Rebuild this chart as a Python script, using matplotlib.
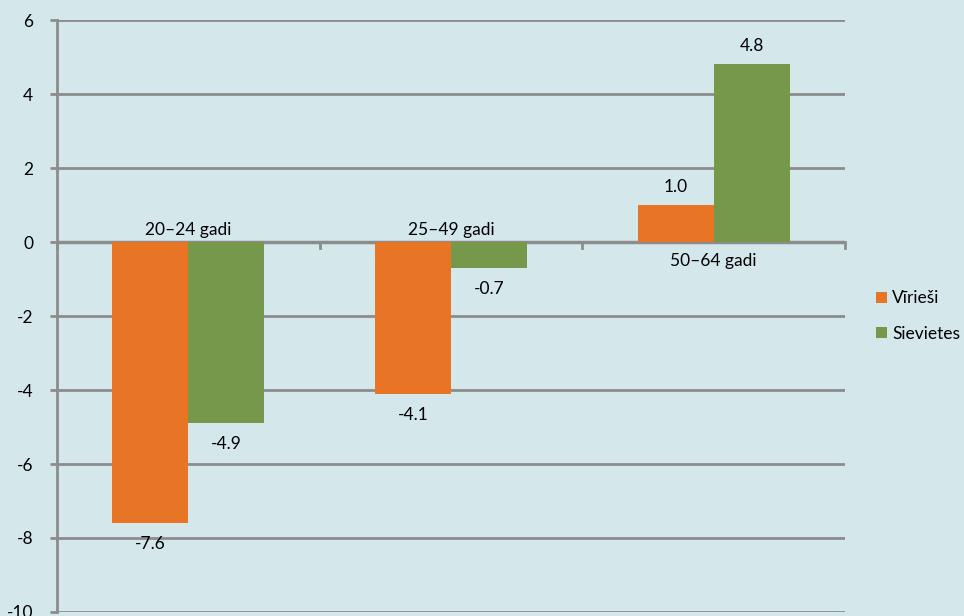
import numpy as np
import matplotlib.pyplot as plt

plt.rcParams['font.family'] = ['Lato', 'DejaVu Sans']
plt.rcParams['axes.unicode_minus'] = False

groups = ['20–24 gadi', '25–49 gadi', '50–64 gadi']
men = [-7.6, -4.1, 1.0]
women = [-4.9, -0.7, 4.8]
series_names = ['Vīrieši', 'Sievietes']

bg = '#d4e8ec'
orange = '#e87526'
green = '#76984a'
grid_col = '#8c8c8c'
fs = 12.5

fig = plt.figure(figsize=(9.64, 6.16), dpi=100, facecolor=bg)
ax = fig.add_axes([0.0591, 0.0065, 0.8175, 0.961])
ax.set_facecolor(bg)

x = np.arange(len(groups))
w = 0.29
b1 = ax.bar(x - w / 2, men, w, color=orange, label=series_names[0], zorder=3)
b2 = ax.bar(x + w / 2, women, w, color=green, label=series_names[1], zorder=3)

# value labels outside the bar end
for bars, vals in ((b1, men), (b2, women)):
    for rect, v in zip(bars, vals):
        cx = rect.get_x() + rect.get_width() / 2
        off = -15 if v < 0 else 13
        ax.annotate(f'{v:.1f}', (cx, v), xytext=(0, off), textcoords='offset points',
                    ha='center', va='center', fontsize=fs, zorder=4)

# category names sit on the side of the axis away from the bars
for i, name in enumerate(groups):
    top = max(men[i], women[i])
    off = -14 if top > 0 else 9
    ax.annotate(name, (i, 0), xytext=(0, off), textcoords='offset points',
                ha='center', va='center', fontsize=fs)

ax.set_xlim(-0.5, 2.5)
ax.set_ylim(-10, 6)
ax.set_yticks(range(-10, 7, 2))
ax.yaxis.grid(True, color=grid_col, lw=2, zorder=1)
ax.tick_params(axis='y', length=5, width=2, color=grid_col, pad=12, labelsize=fs)

# x axis drawn along zero with boundary ticks
ax.set_xticks([])
ax.axhline(0, color=grid_col, lw=2.5, zorder=2)
for bx in [-0.5, 0.5, 1.5, 2.5]:
    ax.plot([bx, bx], [0, -0.15], color=grid_col, lw=2, zorder=2, clip_on=False)

for s in ['top', 'right', 'bottom']:
    ax.spines[s].set_visible(False)
ax.spines['left'].set_color(grid_col)
ax.spines['left'].set_linewidth(2)

leg = ax.legend(loc='center left', bbox_to_anchor=(1.02, 0.5), frameon=False,
                fontsize=fs, handlelength=0.6, handleheight=0.6, handletextpad=0.3,
                labelspacing=1.1)

fig.savefig('out.png', dpi=100, facecolor=bg)
